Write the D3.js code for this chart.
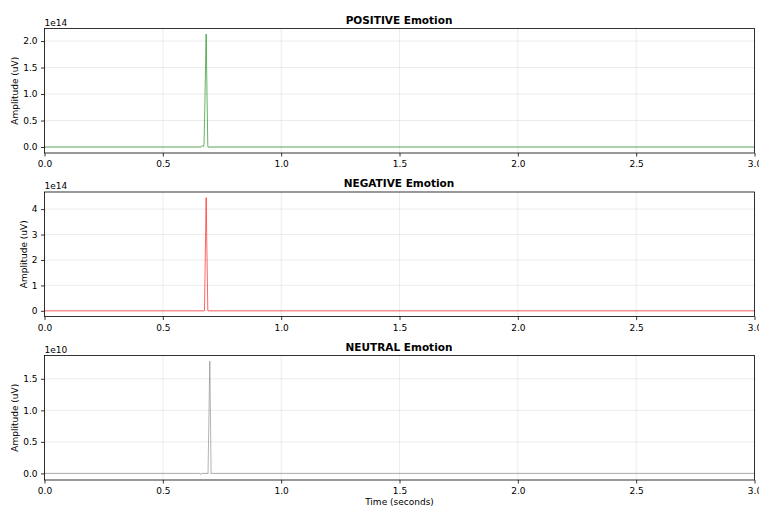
<!DOCTYPE html>
<html>
<head>
<meta charset="utf-8">
<script src="https://cdn.jsdelivr.net/npm/d3@7"></script>
<style>
  html, body { margin: 0; padding: 0; background: #fff; }
  svg { display: block; font-family: "DejaVu Sans", sans-serif; }
</style>
</head>
<body>
<svg id="chart" width="759" height="506"></svg>
<script>
// ---------------- data ----------------
const panelTitles = ["POSITIVE Emotion", "NEGATIVE Emotion", "NEUTRAL Emotion"];
const offsetLabels = ["1e14", "1e14", "1e10"];
const offsetScales = [1e14, 1e14, 1e10];
const xTicks = [0.0, 0.5, 1.0, 1.5, 2.0, 2.5, 3.0];
const xTickLabels = ["0.0", "0.5", "1.0", "1.5", "2.0", "2.5", "3.0"];

// POSITIVE signal (time s, amplitude uV)
const positiveTime  = [0.0, 0.660, 0.664, 0.667, 0.671, 0.674, 0.678, 0.683, 0.687, 0.690, 0.693, 0.697, 3.0];
const positiveValue = [0, 0, 1.5e12, 2.5e12, 1.0e12, 4.0e12, 9.0e13, 2.13e14, 9.0e13, 2.0e12, -6e11, 0, 0];

// NEGATIVE signal
const negativeTime  = [0.0, 0.672, 0.676, 0.683, 0.690, 0.694, 3.0];
const negativeValue = [0, 0, 1.0e12, 4.45e14, 1.0e12, 0, 0];

// NEUTRAL signal
const neutralTime  = [0.0, 0.655, 0.661, 0.668, 0.691, 0.6985, 0.704, 0.708, 3.0];
const neutralValue = [0, 0, -1.5e8, 0, 0, 1.78e10, 0, 0, 0];

const yTicksPos = [0.0, 0.5, 1.0, 1.5, 2.0];
const yTickLabelsPos = ["0.0", "0.5", "1.0", "1.5", "2.0"];
const yTicksNeg = [0, 1, 2, 3, 4];
const yTickLabelsNeg = ["0", "1", "2", "3", "4"];
const yTicksNeu = [0.0, 0.5, 1.0, 1.5];
const yTickLabelsNeu = ["0.0", "0.5", "1.0", "1.5"];

const lineColors = ["green", "red", "gray"];

// ---------------- layout ----------------
const svg = d3.select("#chart");
const left = 44.5, right = 754.5;
const tops = [28.5, 192, 355.5];
const panelH = 124.5;
const fs = 9;

const series = [
  {t: positiveTime, v: positiveValue, ticks: yTicksPos, labels: yTickLabelsPos},
  {t: negativeTime, v: negativeValue, ticks: yTicksNeg, labels: yTickLabelsNeg},
  {t: neutralTime,  v: neutralValue,  ticks: yTicksNeu, labels: yTickLabelsNeu}
];

const x = d3.scaleLinear().domain([0, 3]).range([left, right]);

series.forEach((s, i) => {
  const top = tops[i], bottom = top + panelH;
  const mn = d3.min(s.v), mx = d3.max(s.v);
  const pad = (mx - mn) * 0.05;
  const y = d3.scaleLinear().domain([mn - pad, mx + pad]).range([bottom, top]);
  const g = svg.append("g");
  const sc = offsetScales[i];

  // grid
  g.append("g").selectAll("line.vx").data(xTicks).join("line")
    .attr("x1", d => x(d)).attr("x2", d => x(d))
    .attr("y1", top).attr("y2", bottom)
    .attr("stroke", "#b0b0b0").attr("stroke-opacity", 0.3).attr("stroke-width", 0.8);
  g.append("g").selectAll("line.hy").data(s.ticks).join("line")
    .attr("x1", left).attr("x2", right)
    .attr("y1", d => y(d * sc)).attr("y2", d => y(d * sc))
    .attr("stroke", "#b0b0b0").attr("stroke-opacity", 0.3).attr("stroke-width", 0.8);

  // line
  const pts = s.t.map((t, k) => [t, s.v[k]]);
  g.append("path").datum(pts)
    .attr("fill", "none")
    .attr("stroke", lineColors[i]).attr("stroke-opacity", 0.6).attr("stroke-width", 1)
    .attr("d", d3.line().x(d => x(d[0])).y(d => y(d[1])));

  // axes
  const xAxis = d3.axisBottom(x).tickValues(xTicks)
    .tickFormat((d, k) => xTickLabels[k]).tickSizeOuter(0).tickSize(3.5).tickPadding(4.5);
  const yAxis = d3.axisLeft(y).tickValues(s.ticks.map(d => d * sc))
    .tickFormat((d, k) => s.labels[k]).tickSizeOuter(0).tickSize(3.5).tickPadding(3.5);

  const gx = g.append("g").attr("transform", `translate(0,${bottom})`).call(xAxis);
  const gy = g.append("g").attr("transform", `translate(${left},0)`).call(yAxis);
  [gx, gy].forEach(a => {
    a.select(".domain").remove();
    a.selectAll("text").attr("font-size", fs).attr("fill", "#000")
      .attr("font-family", "DejaVu Sans");
    a.selectAll("line").attr("stroke", "#000").attr("stroke-width", 0.8);
  });

  // frame
  g.append("rect").attr("x", left).attr("y", top)
    .attr("width", right - left).attr("height", panelH)
    .attr("fill", "none").attr("stroke", "#000").attr("stroke-width", 0.8);

  // offset text
  g.append("text").attr("x", left).attr("y", top - 3)
    .attr("font-size", fs).attr("fill", "#000").text(offsetLabels[i]);

  // title
  g.append("text").attr("x", (left + right) / 2 - 0.5).attr("y", top - 5)
    .attr("text-anchor", "middle").attr("font-size", 10.5).attr("font-weight", "bold")
    .attr("fill", "#000").text(panelTitles[i]);

  // y label
  const bb = gy.node().getBBox();
  const lx = left + bb.x - 5;
  g.append("text")
    .attr("transform", `translate(${lx},${(top + bottom) / 2}) rotate(-90)`)
    .attr("text-anchor", "middle").attr("font-size", fs).attr("fill", "#000")
    .text("Amplitude (uV)");

  if (i === 2) {
    g.append("text").attr("x", (left + right) / 2).attr("y", 505)
      .attr("text-anchor", "middle").attr("font-size", fs).attr("fill", "#000")
      .text("Time (seconds)");
  }
});
</script>
</body>
</html>
